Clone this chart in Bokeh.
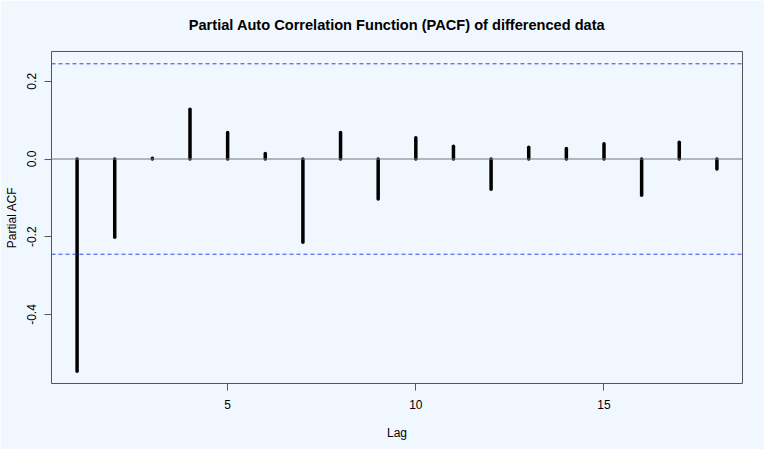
from bokeh.plotting import figure
from bokeh.models import Range1d, Span, FixedTicker, PrintfTickFormatter, Title
from bokeh.embed import file_html
from bokeh.resources import INLINE

# ---- data ----
lags = list(range(1, 19))
pacf_values = [-0.546, -0.201, 0.002, 0.128, 0.068, 0.014, -0.214, 0.068, -0.103,
               0.055, 0.033, -0.078, 0.030, 0.027, 0.039, -0.093, 0.043, -0.026]
conf_limit = 0.245
x_ticks = [5, 10, 15]
y_ticks = [-0.4, -0.2, 0.0, 0.2]
title_text = "Partial Auto Correlation Function (PACF) of differenced data"

BG = "#F0F7FE"
FONT = "Liberation Sans"

# R-style 4% axis extension
xmin, xmax = min(lags), max(lags)
xpad = 0.04 * (xmax - xmin)
ymin = min(min(pacf_values), -conf_limit)
ymax = max(max(pacf_values), conf_limit)
ypad = 0.04 * (ymax - ymin)

p = figure(width=764, height=449, output_backend="svg", toolbar_location=None,
           x_range=Range1d(xmin - xpad, xmax + xpad),
           y_range=Range1d(ymin - ypad, ymax + ypad),
           min_border_left=51, min_border_right=22, min_border_top=51, min_border_bottom=66)

p.background_fill_color = BG
p.border_fill_color = BG
p.outline_line_color = "#555555"
p.outline_line_width = 1
p.xgrid.visible = False
p.ygrid.visible = False

p.title = Title(text=title_text, align="center", vertical_align="top",
                text_font=FONT, text_font_size="14.6px", text_font_style="bold",
                text_color="#000000", standoff=33)

for ax in (p.xaxis[0], p.yaxis[0]):
    ax.axis_line_color = None
    ax.major_tick_line_color = "#555555"
    ax.major_tick_out = 7
    ax.major_tick_in = 0
    ax.minor_tick_line_color = None
    ax.major_label_text_font = FONT
    ax.major_label_text_font_size = "12px"
    ax.major_label_text_color = "#000000"
    ax.axis_label_text_font = FONT
    ax.axis_label_text_font_size = "12px"
    ax.axis_label_text_font_style = "normal"
    ax.axis_label_text_color = "#000000"

p.xaxis.ticker = FixedTicker(ticks=x_ticks)
p.xaxis.axis_label = "Lag"
p.xaxis.major_label_standoff = 9
p.xaxis.axis_label_standoff = 14

p.yaxis.ticker = FixedTicker(ticks=y_ticks)
p.yaxis.formatter = PrintfTickFormatter(format="%.1f")
p.yaxis.major_label_orientation = "vertical"
p.yaxis.axis_label = "Partial ACF"
p.yaxis.major_label_standoff = 8
p.yaxis.axis_label_standoff = 6

# zero line
p.add_layout(Span(location=0, dimension="width", line_color="#777777", line_width=1))
# confidence limits
for c in (conf_limit, -conf_limit):
    p.add_layout(Span(location=c, dimension="width", line_color="#3344EE",
                      line_width=1, line_dash="4 3"))

# PACF bars (R type="h", lwd=3, round ends)
p.segment(x0=lags, y0=[0] * len(lags), x1=lags, y1=pacf_values,
          line_color="#000000", line_width=3.5, line_cap="round")

html = file_html(p, INLINE)
html = html.replace("<body>", '<body style="background:%s">' % BG, 1)
open("out.html", "w").write(html)
